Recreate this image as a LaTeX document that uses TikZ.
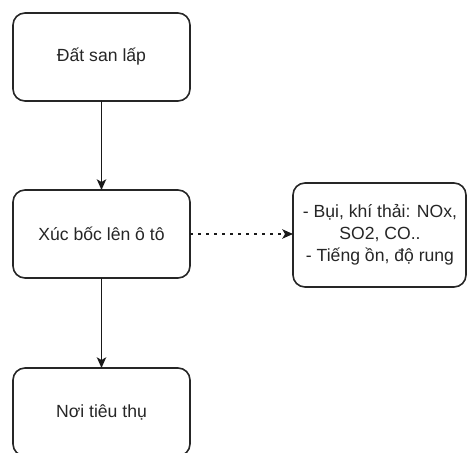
\documentclass[tikz,border=0pt]{standalone}
\usepackage{fontspec}
\setmainfont{Liberation Sans}
\usetikzlibrary{arrows.meta}
\begin{document}
\begin{tikzpicture}[x=0.75pt,y=-0.75pt,
  box/.style={draw=black!85, line width=1.2pt, rounded corners=9pt, fill=white},
  lbl/.style={align=center, font=\fontsize{13.2}{16.5}\selectfont, text=black!85},
  arr/.style={draw=black!90, line width=1.2pt, -{Stealth[length=8pt,width=7pt,inset=2pt]}}]
\useasboundingbox (0,0) rectangle (468,453);
\clip (0,0) rectangle (468,453);
\draw[box] (13,13) rectangle (190,101);
\node[lbl] (a) at (101.5,57) {Đất san lấp};
\coordinate (aB) at (101.5,101);
\draw[box] (13,190) rectangle (190,278);
\node[lbl] (b) at (101.5,234) {Xúc bốc lên ô tô};
\coordinate (bT) at (101.5,190);
\coordinate (bB) at (101.5,278);
\coordinate (bR) at (190,234);
\draw[box] (293,183) rectangle (466,287);
\node[lbl] (d) at (380,235) {- Bụi, khí thải: NOx,\\SO2, CO..\\- Tiếng ồn, độ rung};
\coordinate (dL) at (293,234);
\draw[box] (13,368) rectangle (190,456);
\node[lbl] (c) at (101.5,412) {Nơi tiêu thụ};
\coordinate (cT) at (101.5,368);
\draw[arr] (aB) -- (bT);
\draw[arr] (bB) -- (cT);
\draw[arr, line width=1.5pt, dash pattern=on 2pt off 4pt] (bR) -- (dL);
\end{tikzpicture}
\end{document}
